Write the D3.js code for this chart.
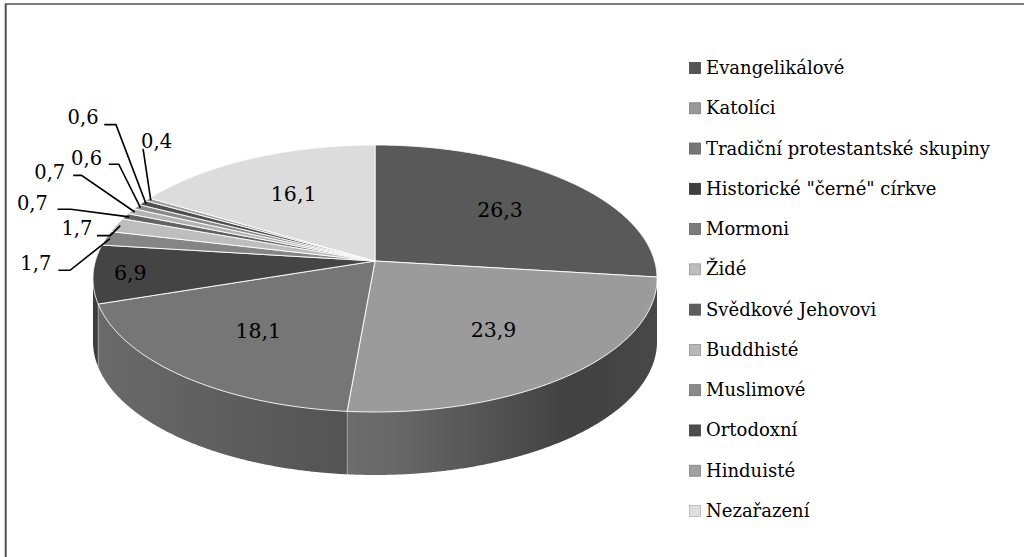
<!DOCTYPE html>
<html><head><meta charset="utf-8">
<script src="https://cdn.jsdelivr.net/npm/d3@7"></script>
<style>body{margin:0;background:#fff;} svg{display:block;}</style>
</head><body>
<svg id="chart" width="1024" height="557"></svg>
<script>
// ---- data ----
const categories = ["Evangelikálové","Katolíci","Tradiční protestantské skupiny","Historické \"černé\" církve","Mormoni","Židé","Svědkové Jehovovi","Buddhisté","Muslimové","Ortodoxní","Hinduisté","Nezařazení"];
const values = [26.3,23.9,18.1,6.9,1.7,1.7,0.7,0.7,0.6,0.6,0.4,16.1];
const colors = ["#595959","#9b9b9b","#767676","#444444","#858585","#bdbdbd","#636363","#b3b3b3","#8a8a8a","#4f4f4f","#9d9d9d","#dcdcdc"];
const legendColors = ["#555555","#999999","#767676","#3e3e3e","#7c7c7c","#bdbdbd","#5e5e5e","#b8b8b8","#8a8a8a","#4c4c4c","#a0a0a0","#dedede"];

// ---- layout (not data) ----
const cx = 375, cy = 261, RX = 279.6, RY = 131.2, persp = 0.131, depth = 63;
// leader-line layout for small slices: [elbow dx, elbow dy, tail length, text dx, text dy] (relative)
const leaderLayout = {
  4: [-40, 31.7, 11.7, -34.2, -7.7],
  5: [-10, 10, 13.3, -33.3, -7.5],
  6: [-58.3, -7.7, 13.3, -38.3, -6.5],
  7: [-53.3, -36.6, 8.3, -31.7, -3.4],
  8: [-21.7, -43.4, 10, -32.2, -5.8],
  9: [-30, -79, 11.7, -32.9, -7.3],
  10: [-7.7, -51.6, 0, 13.5, -7.7]
};

const fmt = d3.formatLocale({decimal: ",", thousands: " ", grouping: [3], currency: ["", " Kč"]}).format(".1f");
const svg = d3.select("#chart");

// perspective projection of a point on the unit disc (angle clockwise from 12 o'clock)
function proj(theta, t) {
  const u = t * Math.sin(theta), v = t * Math.cos(theta);
  const w = 1 + persp * v;
  return [cx + RX * u / w, cy - RY * v / w];
}
function arcPoints(a0, a1, t) {
  const n = Math.max(2, Math.ceil((a1 - a0) / 0.005));
  return d3.range(n + 1).map(i => proj(a0 + (a1 - a0) * i / n, t));
}
const line = d3.line();
function shade(c, f) { const r = d3.rgb(c); return d3.rgb(r.r * f, r.g * f, r.b * f).formatHex(); }

const arcs = d3.pie().sort(null).value(d => d)(values);
const total = d3.sum(values);

// frame
svg.append("line").attr("x1", 5).attr("y1", 4).attr("x2", 1024).attr("y2", 4).attr("stroke", "#505050").attr("stroke-width", 1.6);
svg.append("line").attr("x1", 5.7).attr("y1", 4).attr("x2", 5.7).attr("y2", 557).attr("stroke", "#505050").attr("stroke-width", 2);

const defs = svg.append("defs");
// sides
const thR = Math.acos(-persp), thL = 2 * Math.PI - thR;
arcs.forEach((a, i) => {
  const s = Math.max(a.startAngle, thR), e = Math.min(a.endAngle, thL);
  if (s >= e) return;
  const g = defs.append("linearGradient").attr("id", "side" + i)
    .attr("gradientUnits", "userSpaceOnUse").attr("x1", cx - RX).attr("x2", cx + RX).attr("y1", 0).attr("y2", 0);
  g.append("stop").attr("offset", 0).attr("stop-color", shade(colors[i], 0.9));
  g.append("stop").attr("offset", 0.55).attr("stop-color", shade(colors[i], 0.66));
  g.append("stop").attr("offset", 0.85).attr("stop-color", shade(colors[i], 0.42));
  g.append("stop").attr("offset", 1).attr("stop-color", shade(colors[i], 0.46));
  const top = arcPoints(s, e, 1);
  const bot = top.map(p => [p[0], p[1] + depth]).reverse();
  svg.append("path").attr("d", line(top.concat(bot)) + "Z").attr("fill", `url(#side${i})`);
});
// side edges between slices
arcs.forEach((a, i) => {
  const ang = a.startAngle;
  if (ang > thR && ang < thL) {
    const p = proj(ang, 1);
    svg.append("line").attr("x1", p[0]).attr("y1", p[1]).attr("x2", p[0]).attr("y2", p[1] + depth)
      .attr("stroke", "rgba(255,255,255,0.35)").attr("stroke-width", 1);
  }
});
// tops
arcs.forEach((a, i) => {
  const pts = [proj(0, 0)].concat(arcPoints(a.startAngle, a.endAngle, 1));
  svg.append("path").attr("d", line(pts) + "Z").attr("fill", colors[i])
    .attr("stroke", "#ffffff").attr("stroke-width", 0.9).attr("stroke-linejoin", "round");
});

// labels
const labFont = "'DejaVu Serif', serif";
arcs.forEach((a, i) => {
  const mid = (a.startAngle + a.endAngle) / 2;
  const txt = fmt(values[i]);
  if (leaderLayout[i]) {
    const L = leaderLayout[i];
    const p0 = proj(mid, 0.985);
    const el = [p0[0] + L[0], p0[1] + L[1]];
    const pts = [p0, el];
    if (L[2] > 0) pts.push([el[0] - L[2], el[1]]);
    svg.append("path").attr("d", line(pts)).attr("fill", "none").attr("stroke", "#000").attr("stroke-width", 1.6);
    svg.append("text").attr("x", el[0] + L[3]).attr("y", el[1] + L[4] + 7)
      .attr("text-anchor", "middle").attr("font-family", labFont).attr("font-size", 19.5).attr("fill", "#000").text(txt);
  } else {
    const share = values[i] / total;
    const p = proj(mid, share < 0.1 ? 0.87 : 0.63);
    svg.append("text").attr("x", p[0]).attr("y", p[1] + 7.5)
      .attr("text-anchor", "middle").attr("font-family", labFont).attr("font-size", 20.5).attr("fill", "#000").text(txt);
  }
});

// legend
const ly = d3.scalePoint().domain(categories).range([74, 517]);
const lg = svg.append("g");
categories.forEach((c, i) => {
  const y = ly(c);
  lg.append("rect").attr("x", 689.5).attr("y", y - 11.5).attr("width", 11).attr("height", 11)
    .attr("fill", legendColors[i]).attr("stroke", shade(legendColors[i], 0.8)).attr("stroke-width", 0.8);
  lg.append("text").attr("x", 706).attr("y", y).attr("font-family", labFont).attr("font-size", 18)
    .attr("fill", "#000").text(c);
});
</script>
</body></html>
